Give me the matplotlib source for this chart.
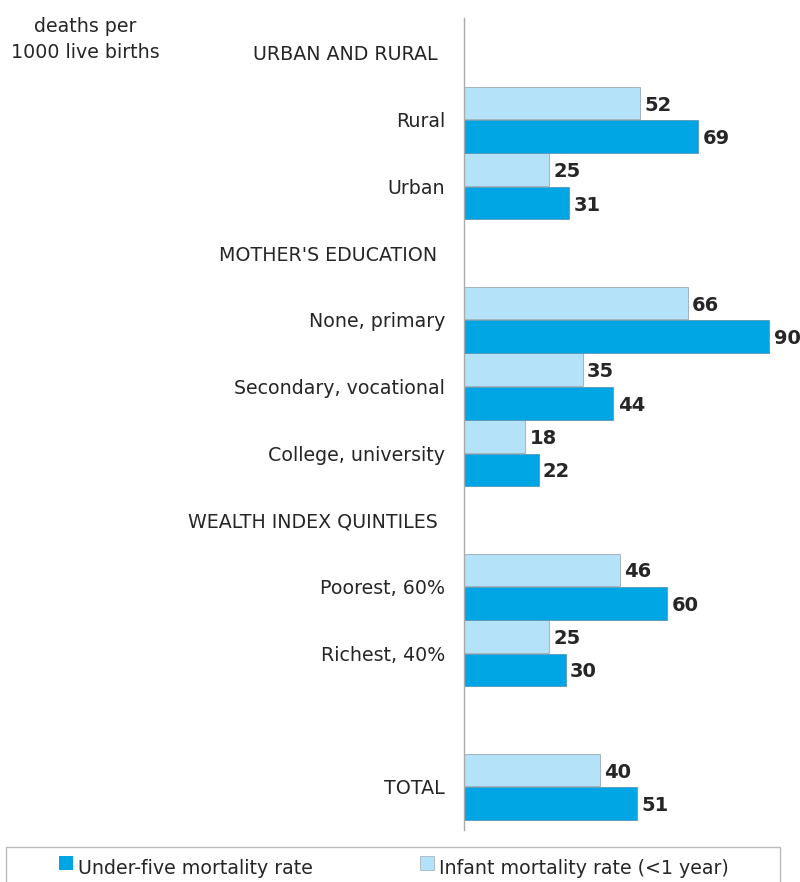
import matplotlib
matplotlib.use("Agg")
import matplotlib.pyplot as plt
from matplotlib.patches import Rectangle

# Mortality rates by background characteristic (deaths per 1000 live births)
categories = ["Rural", "Urban", "None, primary", "Secondary, vocational",
              "College, university", "Poorest, 60%", "Richest, 40%", "TOTAL"]
under_five = [69, 31, 90, 44, 22, 60, 30, 51]
infant = [52, 25, 66, 35, 18, 46, 25, 40]
cat_rows = [1, 2, 4, 5, 6, 8, 9, 11]

headers = ["URBAN AND RURAL", "MOTHER'S EDUCATION", "WEALTH INDEX QUINTILES"]
header_rows = [0, 3, 7]

dark = "#00a6e4"
light = "#b4e2f8"
text_col = "#262626"
fs = 13.7

W, H = 800, 882
fig = plt.figure(figsize=(W / 100, H / 100), dpi=100)

# axes placed in pixel terms: left edge at x=464, rows 66.7 px apart
ax_left, ax_right = 464, 800
ax_top, ax_bot = 18, 830
row0_px, row_step = 53, 66.7
ax = fig.add_axes([ax_left / W, 1 - ax_bot / H, (ax_right - ax_left) / W, (ax_bot - ax_top) / H])
ax.set_xlim(0, (ax_right - ax_left) / 3.39)
ax.set_ylim((ax_bot - row0_px) / row_step, (ax_top - row0_px) / row_step)

bh = 0.49
light_y = [r - 0.25 for r in cat_rows]
dark_y = [r + 0.25 for r in cat_rows]
ax.barh(light_y, infant, height=bh, color=light, edgecolor="#9aaab4", linewidth=0.6)
ax.barh(dark_y, under_five, height=bh, color=dark, edgecolor="#5a98b8", linewidth=0.6)

for y, v in zip(light_y, infant):
    ax.text(v + 1.3, y, str(v), va="center_baseline", ha="left", fontsize=14,
            fontweight="bold", color=text_col)
for y, v in zip(dark_y, under_five):
    ax.text(v + 1.3, y, str(v), va="center_baseline", ha="left", fontsize=14,
            fontweight="bold", color=text_col)

# category and group labels to the left of the axis
for r, name in zip(cat_rows, categories):
    ax.text(-5.6, r, name, va="center_baseline", ha="right", fontsize=fs,
            color=text_col, clip_on=False)
for r, name in zip(header_rows, headers):
    ax.text(-7.8, r, name, va="center_baseline", ha="right", fontsize=fs,
            color=text_col, clip_on=False)

for side in ["top", "right", "bottom"]:
    ax.spines[side].set_visible(False)
ax.spines["left"].set_color("#aaaaaa")
ax.spines["left"].set_linewidth(1)
ax.set_xticks([])
ax.set_yticks([])

fig.text(85 / W, 1 - 32 / H, "deaths per", ha="center", va="baseline",
         fontsize=fs, color=text_col)
fig.text(85 / W, 1 - 58 / H, "1000 live births", ha="center", va="baseline",
         fontsize=fs, color=text_col)

# legend box along the bottom edge
fig.add_artist(Rectangle((6 / W, -0.01), 774 / W, (H - 847) / H + 0.01,
                         transform=fig.transFigure, facecolor="white",
                         edgecolor="#bbbbbb", linewidth=1))
leg_base = 1 - 874 / H
fig.add_artist(Rectangle((59 / W, 1 - 870 / H), 14 / W, 14 / H, transform=fig.transFigure,
                         facecolor=dark, edgecolor="none"))
fig.text(78 / W, leg_base, "Under-five mortality rate", ha="left", va="baseline",
         fontsize=fs, color=text_col)
fig.add_artist(Rectangle((420 / W, 1 - 870 / H), 14 / W, 14 / H, transform=fig.transFigure,
                         facecolor=light, edgecolor="#9aaab4", linewidth=0.5))
fig.text(439 / W, leg_base, "Infant mortality rate (<1 year)", ha="left", va="baseline",
         fontsize=fs, color=text_col)

fig.savefig("out.png", dpi=100)
